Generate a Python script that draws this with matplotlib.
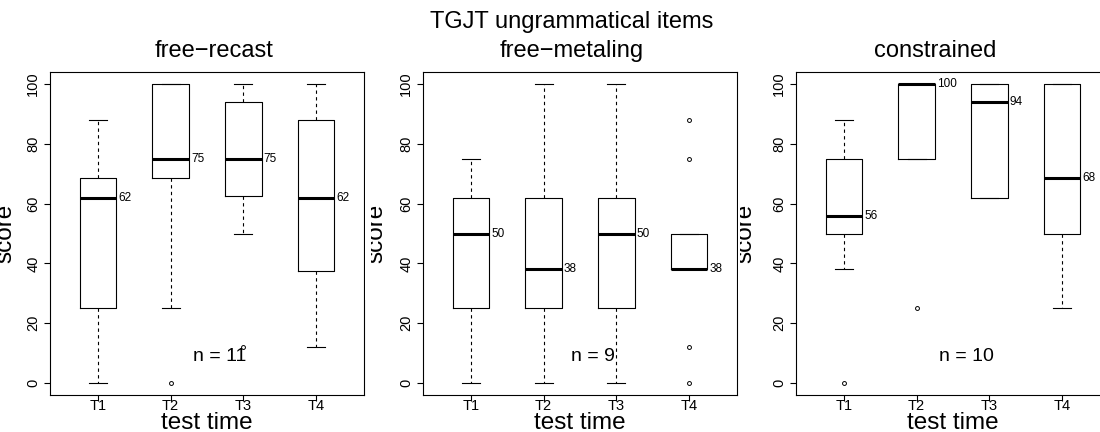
import matplotlib
matplotlib.use("Agg")
import matplotlib.pyplot as plt
from matplotlib.patches import Rectangle

plt.rcParams['font.family'] = ['Liberation Sans', 'DejaVu Sans']

# ---------------- data ----------------
suptitle = "TGJT ungrammatical items"
panel_titles = ["free\u2212recast", "free\u2212metaling", "constrained"]
times = ["T1", "T2", "T3", "T4"]

recast_whislo = [0, 25, 50, 12]
recast_q1 = [25, 68.5, 62.5, 37.5]
recast_med = [62, 75, 75, 62]
recast_q3 = [68.5, 100, 94, 88]
recast_whishi = [88, 100, 100, 100]
recast_fliers = [[], [0], [12], []]
recast_labels = ["62", "75", "75", "62"]
recast_n = 11

metal_whislo = [0, 0, 0, 38]
metal_q1 = [25, 25, 25, 38]
metal_med = [50, 38, 50, 38]
metal_q3 = [62, 62, 62, 50]
metal_whishi = [75, 100, 100, 50]
metal_fliers = [[], [], [], [0, 12, 75, 88]]
metal_labels = ["50", "38", "50", "38"]
metal_n = 9

constr_whislo = [38, 75, 62, 25]
constr_q1 = [50, 75, 62, 50]
constr_med = [56, 100, 94, 68.5]
constr_q3 = [75, 100, 100, 100]
constr_whishi = [88, 100, 100, 100]
constr_fliers = [[0], [25], [], []]
constr_labels = ["56", "100", "94", "68"]
constr_n = 10

yticks = [0, 20, 40, 60, 80, 100]
xlabel = "test time"
ylabel = "score"

panels = [
    (recast_whislo, recast_q1, recast_med, recast_q3, recast_whishi, recast_fliers, recast_labels, recast_n),
    (metal_whislo, metal_q1, metal_med, metal_q3, metal_whishi, metal_fliers, metal_labels, metal_n),
    (constr_whislo, constr_q1, constr_med, constr_q3, constr_whishi, constr_fliers, constr_labels, constr_n),
]

# ---------------- layout (pixels) ----------------
W, H = 1100, 432
fig = plt.figure(figsize=(W / 100, H / 100), dpi=100)
ax_left_px = [50, 423, 796]
ax_width_px = 314
ax_top_px, ax_bot_px = 72, 395
clip_left_px = [0, 371, 740]
ylabel_base_px = [11, 382, 751]
title_cx_px = [214, 572, 935]

for i, (wlo, q1, med, q3, whi, fl, labs, n) in enumerate(panels):
    ax = fig.add_axes([ax_left_px[i] / W, (H - ax_bot_px) / H,
                       ax_width_px / W, (ax_bot_px - ax_top_px) / H])
    stats = []
    for j in range(len(times)):
        stats.append(dict(whislo=wlo[j], q1=q1[j], med=med[j], q3=q3[j],
                          whishi=whi[j], fliers=fl[j], label=times[j]))
    pos = list(range(1, len(times) + 1))
    ax.bxp(stats, positions=pos, widths=0.5, showfliers=True,
           boxprops=dict(color='black', linewidth=0.8),
           medianprops=dict(color='black', linewidth=2.2, solid_capstyle='butt'),
           whiskerprops=dict(color='black', linewidth=0.8, linestyle=(0, (3, 3))),
           capprops=dict(color='black', linewidth=0.8),
           capwidths=0.25,
           flierprops=dict(marker='o', markersize=2.8, markerfacecolor='none',
                           markeredgecolor='black', markeredgewidth=0.7))
    for j in range(len(times)):
        ax.text(pos[j] + 0.28, med[j], labs[j], ha='left', va='center', fontsize=8.5)
    ax.text(2.68, 9, "n = %d" % n, ha='center', va='center', fontsize=14)

    ax.set_xlim(0.34, 4.66)
    ax.set_ylim(-4, 104)
    ax.set_xticks(pos)
    ax.set_xticklabels(times)
    ax.set_yticks(yticks)
    ax.set_yticklabels([str(v) for v in yticks], rotation=90, va='center')
    ax.tick_params(axis='both', direction='out', length=4, width=0.8, labelsize=10.5)
    ax.tick_params(axis='x', pad=-1)
    ax.tick_params(axis='y', pad=3)
    for sp in ax.spines.values():
        sp.set_linewidth(0.8)

    # x label
    cx = (ax_left_px[i] + ax_width_px / 2) / W
    fig.text(cx, 3 / H, xlabel, ha='center', va='baseline', fontsize=17.5)
    # y label, cut at the left edge of its panel region
    cy = (H - (ax_top_px + ax_bot_px) / 2) / H
    fig.text(ylabel_base_px[i] / W, cy, ylabel, rotation=90, rotation_mode='anchor',
             ha='center', va='baseline', fontsize=17.5, zorder=3)
    if i > 0:
        x0 = ax_left_px[i - 1] + ax_width_px + 1.0
        fig.add_artist(Rectangle((x0 / W, (H - 300) / H), (clip_left_px[i] - x0) / W,
                                 130 / H, transform=fig.transFigure,
                                 facecolor='white', edgecolor='none', zorder=5))
    # panel title
    fig.text(title_cx_px[i] / W, (H - 57) / H, panel_titles[i], ha='center',
             va='baseline', fontsize=17)

fig.text(title_cx_px[1] / W, (H - 28) / H, suptitle, ha='center', va='baseline', fontsize=17)

fig.savefig("out.png", dpi=100)
